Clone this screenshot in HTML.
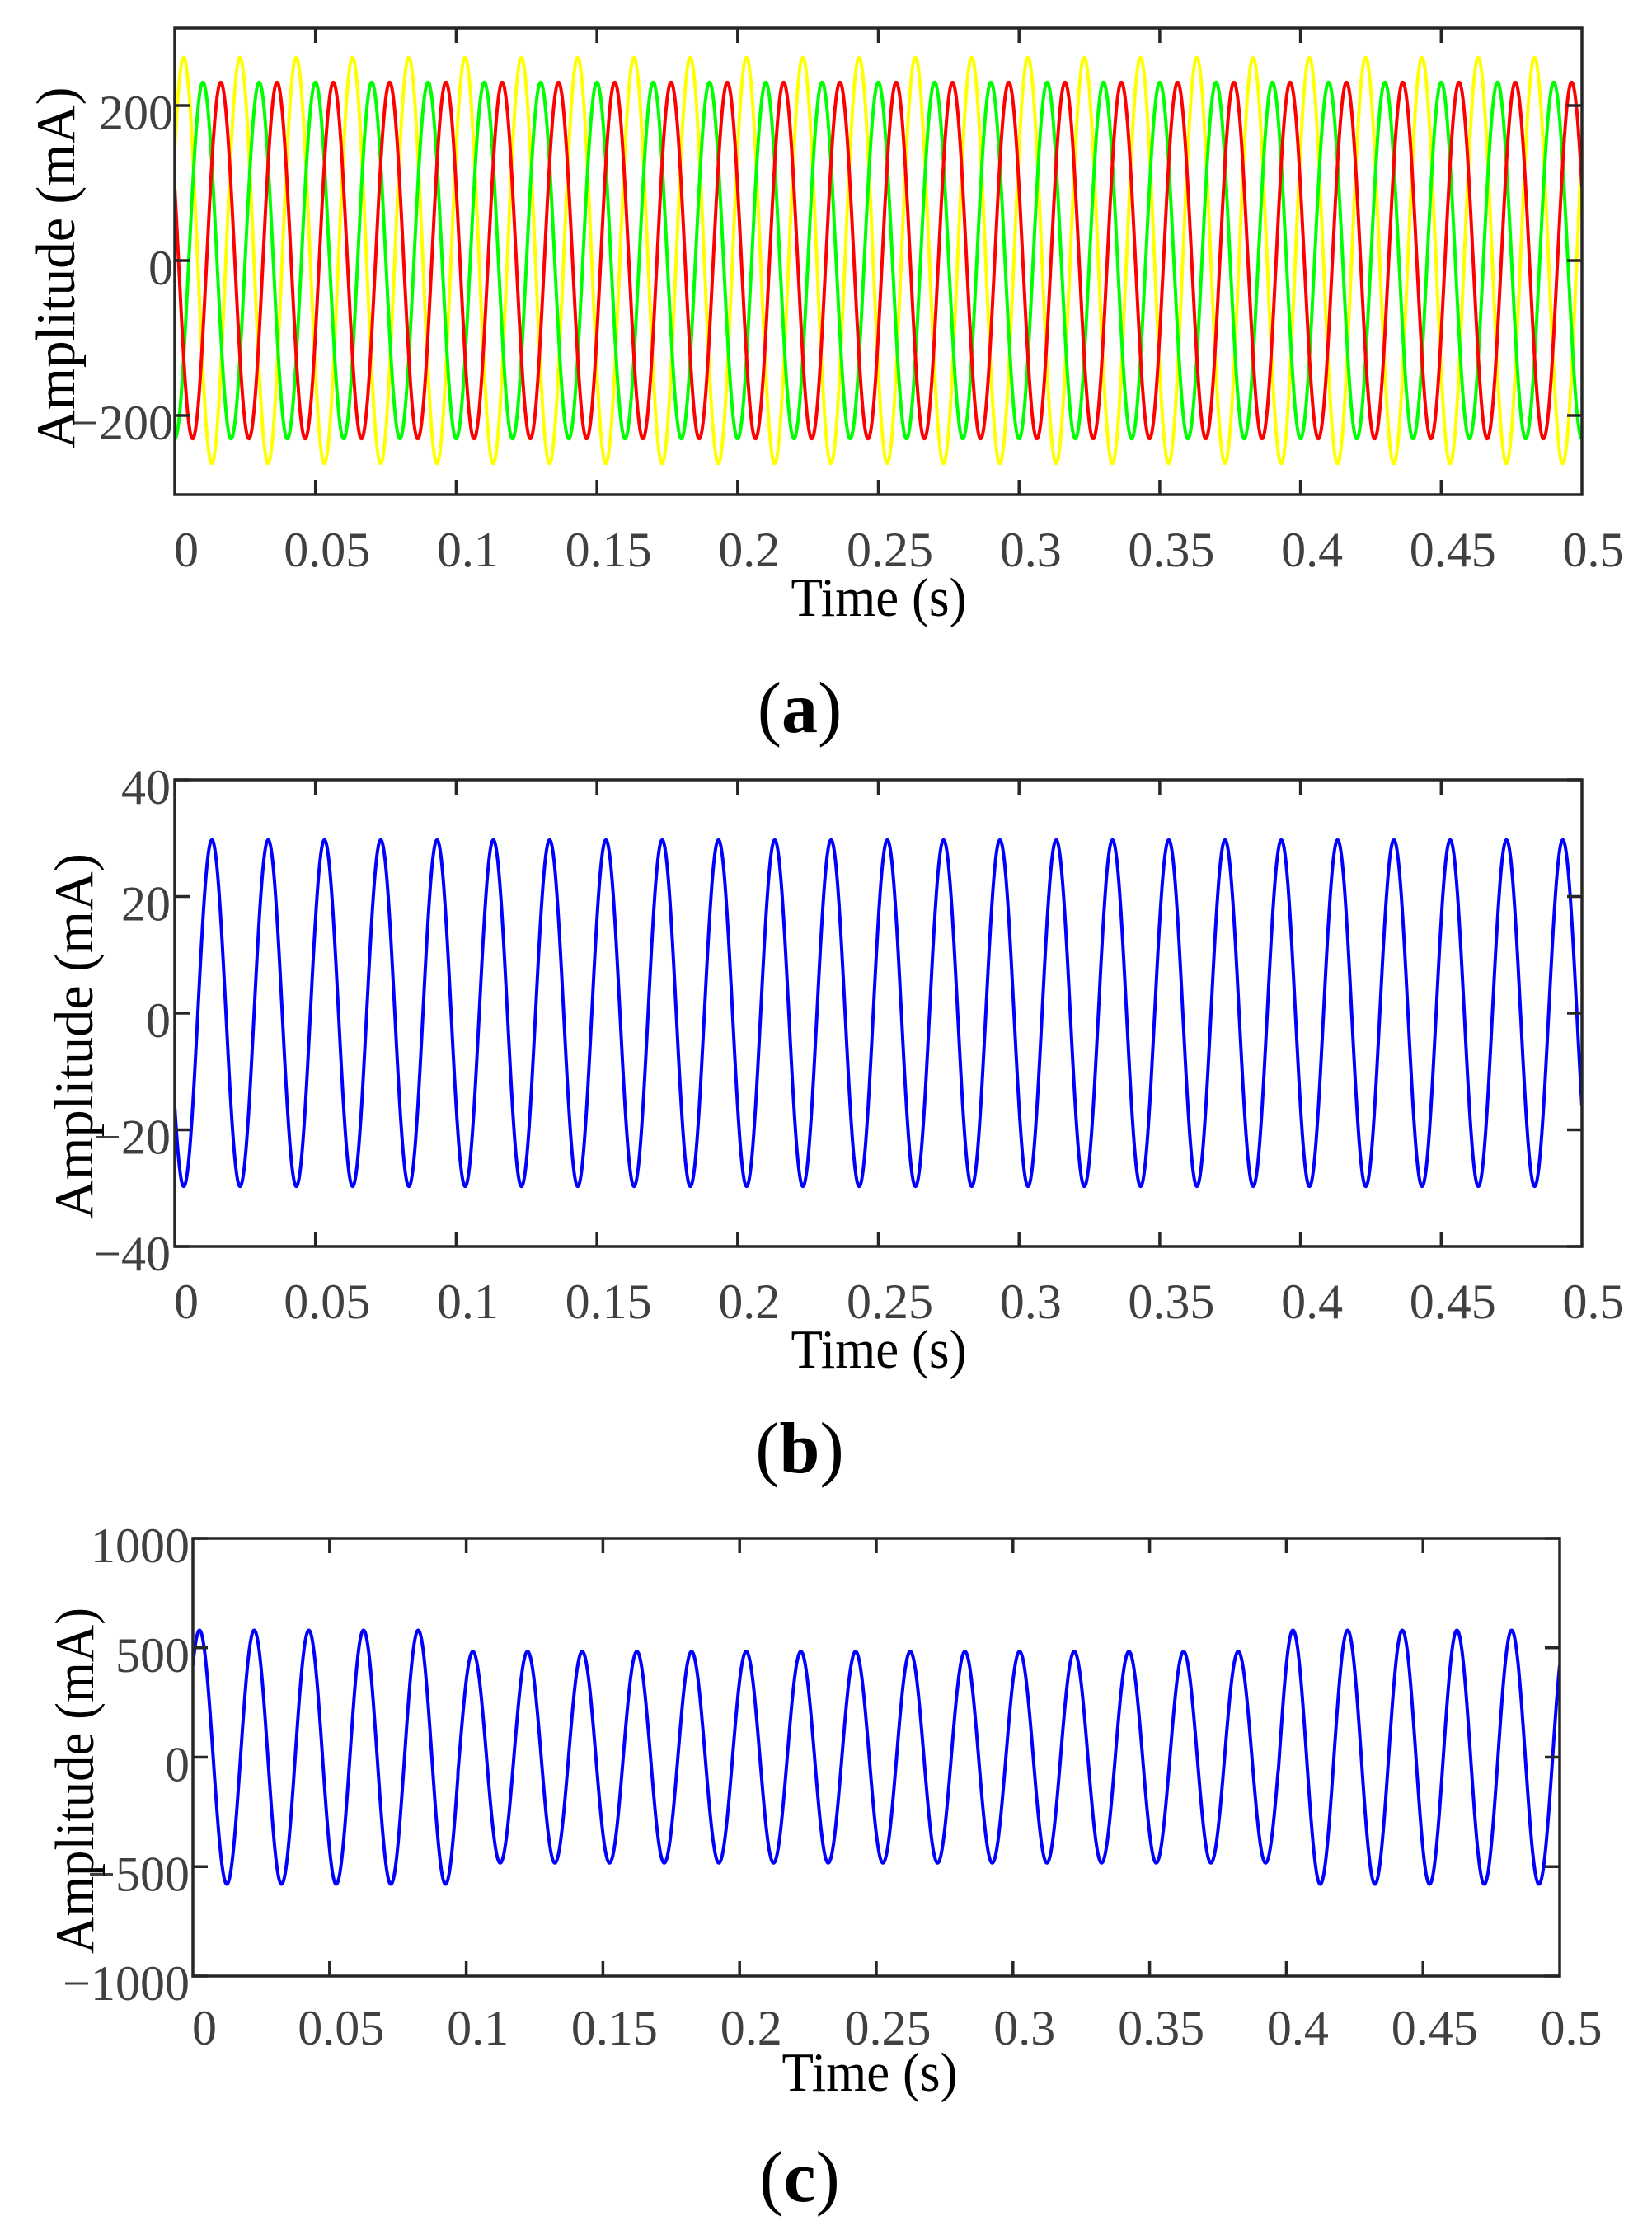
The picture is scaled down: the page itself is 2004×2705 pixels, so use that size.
<!DOCTYPE html>
<html><head><meta charset="utf-8"><style>
html,body{margin:0;padding:0;background:#fff;}
svg{display:block;}
.tk{font-family:"Liberation Serif",serif;font-size:60px;fill:#404040;}
.ax{font-family:"Liberation Serif",serif;font-size:67px;fill:#000;}
.cap{font-family:"Liberation Serif",serif;font-size:88px;fill:#000;}
</style></head><body>
<svg id="s" width="2004" height="2705" viewBox="0 0 2004 2705" xmlns="http://www.w3.org/2000/svg">
<defs>
<clipPath id="ca"><rect x="212" y="34" width="1707" height="566"/></clipPath>
<clipPath id="cb"><rect x="212" y="946" width="1707" height="566"/></clipPath>
<clipPath id="cc"><rect x="234" y="1866" width="1658" height="531"/></clipPath>
</defs>
<g id="g"></g>
<text class="ax" x="1066" y="747" text-anchor="middle" textLength="213" lengthAdjust="spacingAndGlyphs">Time (s)</text>
<text class="ax" x="1066" y="1659" text-anchor="middle" textLength="213" lengthAdjust="spacingAndGlyphs">Time (s)</text>
<text class="ax" x="1055" y="2536" text-anchor="middle" textLength="213" lengthAdjust="spacingAndGlyphs">Time (s)</text>
<text class="ax" transform="translate(90,325) rotate(-90)" text-anchor="middle" textLength="439" lengthAdjust="spacingAndGlyphs">Amplitude (mA)</text>
<text class="ax" transform="translate(112,1257) rotate(-90)" text-anchor="middle" textLength="444" lengthAdjust="spacingAndGlyphs">Amplitude (mA)</text>
<text class="ax" transform="translate(113,2160) rotate(-90)" text-anchor="middle" textLength="420" lengthAdjust="spacingAndGlyphs">Amplitude (mA)</text>
<text class="cap" x="970" y="888" text-anchor="middle">(<tspan font-weight="bold">a</tspan>)</text>
<text class="cap" x="970" y="1786" text-anchor="middle">(<tspan font-weight="bold">b</tspan>)</text>
<text class="cap" x="970" y="2670" text-anchor="middle">(<tspan font-weight="bold">c</tspan>)</text>
</svg>
<script>
(function(){
var NS="http://www.w3.org/2000/svg",g=document.getElementById("g");
function el(n,a,t){var e=document.createElementNS(NS,n);for(var k in a)e.setAttribute(k,a[k]);if(t!==undefined)e.textContent=t;g.appendChild(e);return e;}
function plot(P){
  var X=function(t){return P.l+(P.r-P.l)*t/0.5;};
  var Y=function(v){return P.z-(v)*P.s;};
  P.series.forEach(function(S){
    var pts=[];
    for(var i=0;i<=5000;i++){var t=0.5*i/5000;pts.push(X(t).toFixed(2)+","+Y(S(t)).toFixed(2));}
    el("polyline",{points:pts.join(" "),fill:"none",stroke:S.c,"stroke-width":4,"clip-path":"url(#"+P.clip+")","stroke-linejoin":"round"});
  });
  el("rect",{x:P.l,y:P.t,width:P.r-P.l,height:P.b-P.t,fill:"none",stroke:"#262626","stroke-width":3.5});
  var xl=["0","0.05","0.1","0.15","0.2","0.25","0.3","0.35","0.4","0.45","0.5"];
  for(var i=0;i<=10;i++){var x=X(i*0.05);
    if(i>0&&i<10){el("line",{x1:x,y1:P.b,x2:x,y2:P.b-18,stroke:"#262626","stroke-width":3.5});
    el("line",{x1:x,y1:P.t,x2:x,y2:P.t+18,stroke:"#262626","stroke-width":3.5});}
    el("text",{"class":"tk",x:x+14,y:P.lb,"text-anchor":"middle"},xl[i]);}
  P.yt.forEach(function(v){var y=Y(v);
    el("line",{x1:P.l,y1:y,x2:P.l+18,y2:y,stroke:"#262626","stroke-width":3.5});
    el("line",{x1:P.r,y1:y,x2:P.r-18,y2:y,stroke:"#262626","stroke-width":3.5});
    el("text",{"class":"tk",x:P.ya,y:y+29,"text-anchor":"end"},(v<0?"\u2212":"")+Math.abs(v));});
}
var w=2*Math.PI*50;
var ya=function(t){return 262*Math.sin(w*t+0.58);};ya.c="#ffff00";
var gr=function(t){return 230*Math.sin(w*t-1.571);};gr.c="#00ff00";
var rd=function(t){return 230*Math.sin(w*t+2.72);};rd.c="#ff0000";
plot({l:212,r:1919,t:34,b:600,z:316,s:0.94,clip:"ca",lb:687,ya:210,yt:[-200,0,200],series:[ya,gr,rd]});
var bl=function(t){return 29.7*Math.sin(w*t+3.71);};bl.c="#0000ff";
plot({l:212,r:1919,t:946,b:1512,z:1229,s:7.075,clip:"cb",lb:1599,ya:207,yt:[-40,-20,0,20,40],series:[bl]});
var cl=function(t){var a=(t<0.097||t>0.397)?580:483;return a*Math.sin(w*t+0.81);};cl.c="#0000ff";
plot({l:234,r:1892,t:1866,b:2397,z:2131.5,s:0.2655,clip:"cc",lb:2480,ya:230,yt:[-1000,-500,0,500,1000],series:[cl]});
})();
</script>
</body></html>
